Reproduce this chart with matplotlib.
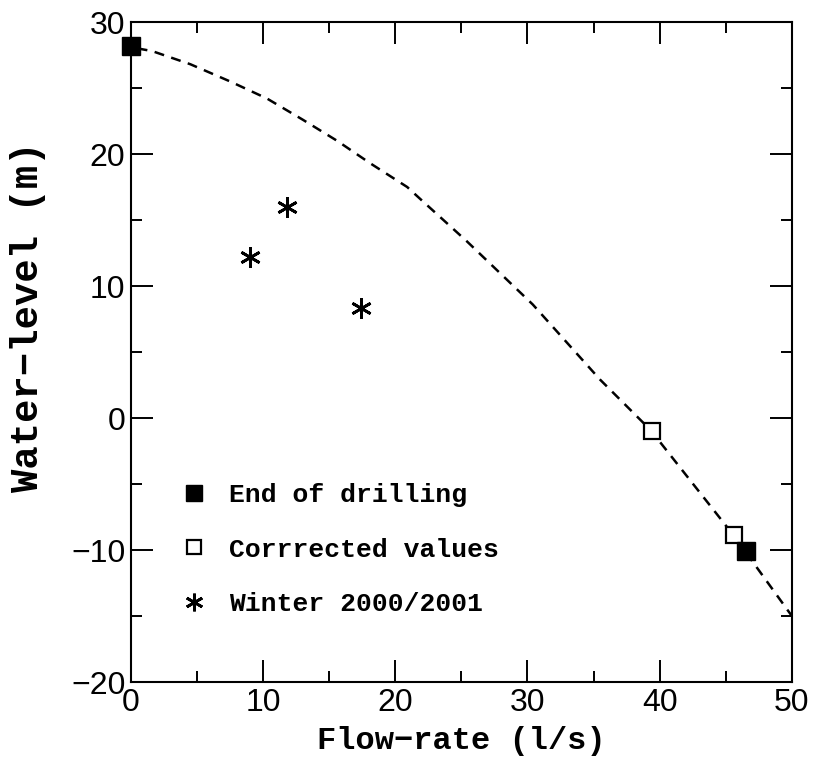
import numpy as np
import matplotlib
matplotlib.use("Agg")
import matplotlib.pyplot as plt
from matplotlib.ticker import MultipleLocator

# data
end_x = [0.0, 46.5]
end_y = [28.2, -10.1]
corr_x = [39.4, 45.6]
corr_y = [-1.0, -8.9]
winter_x = [9.0, 11.8, 17.4]
winter_y = [12.2, 16.0, 8.3]
curve_x = [0.5, 1.6, 4.5, 7.5, 10.3, 13.0, 15.6, 18.1, 20.9, 22.1, 25.4, 30.4, 35.5, 39.3, 45.6, 50.0]
curve_y = [28.0, 27.8, 26.8, 25.5, 24.2, 22.6, 21.0, 19.3, 17.5, 16.4, 13.4, 8.6, 2.9, -0.9, -8.9, -15.0]

fig = plt.figure(figsize=(8.13, 7.75), dpi=100)
ax = fig.add_axes([0.161, 0.12, 0.813, 0.8516])

ax.plot(curve_x, curve_y, color="black", lw=1.8, ls=(0, (4, 3)))
asterisk = (6, 2, 0)
ax.plot(end_x, end_y, ls="none", marker="s", ms=13, color="black",
        label="End of drilling", clip_on=False, zorder=5)
ax.plot(corr_x, corr_y, ls="none", marker="s", ms=12, mfc="white", mec="black",
        mew=1.6, label="Corrrected values", zorder=4)
ax.plot(winter_x, winter_y, ls="none", marker=asterisk, ms=15, mec="black",
        mew=2.0, label="Winter 2000/2001", zorder=4)

ax.set_xlim(0, 50)
ax.set_ylim(-20, 30)
ax.xaxis.set_major_locator(MultipleLocator(10))
ax.xaxis.set_minor_locator(MultipleLocator(5))
ax.yaxis.set_major_locator(MultipleLocator(10))
ax.yaxis.set_minor_locator(MultipleLocator(5))
ax.tick_params(which="both", direction="in", top=True, right=True, width=1.4)
ax.tick_params(which="major", length=16, labelsize=23, pad=4)
ax.tick_params(which="minor", length=8)
for lab in ax.get_xticklabels() + ax.get_yticklabels():
    lab.set_family("Liberation Sans")
for sp in ax.spines.values():
    sp.set_linewidth(1.5)

ax.set_xlabel("Flow\u2212rate (l/s)", family="Liberation Mono", fontsize=23,
              fontweight="bold", labelpad=6)
ax.set_ylabel("Water\u2212level (m)", family="Liberation Mono", fontsize=28,
              fontweight="bold")
ax.yaxis.set_label_coords(-0.128, 0.553)

leg = ax.legend(loc="upper left", bbox_to_anchor=(0.06, 0.321), frameon=False,
                prop={"family": "Liberation Mono", "weight": "bold", "size": 19},
                handlelength=0.8, handletextpad=0.9, labelspacing=1.15,
                borderpad=0, markerscale=0.85)

fig.savefig("out.png", dpi=100)
